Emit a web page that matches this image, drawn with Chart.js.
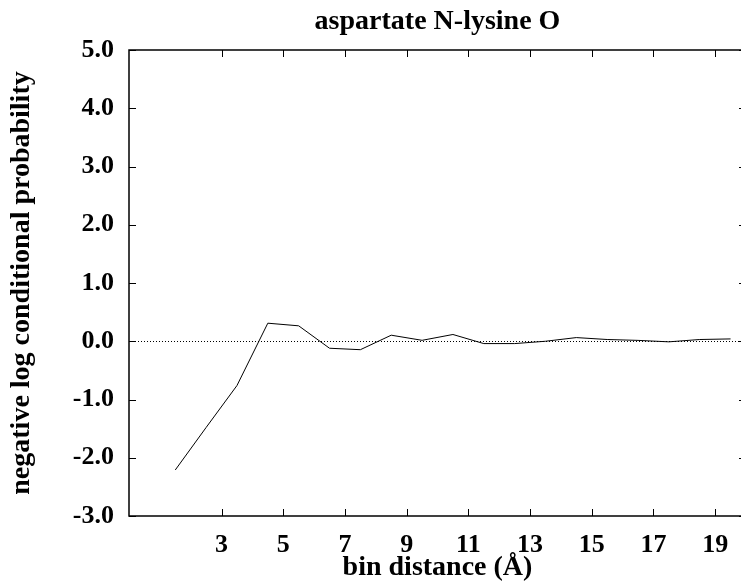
<!DOCTYPE html>
<html>
<head>
<meta charset="utf-8">
<script src="https://cdn.jsdelivr.net/npm/chart.js@4.4.1/dist/chart.umd.min.js"></script>
<style>
  html, body { margin: 0; padding: 0; background: #fff; overflow: hidden; }
  #wrap { width: 741px; height: 585px; overflow: hidden; }
  canvas { display: block; }
</style>
</head>
<body>
<div id="wrap"><canvas id="c" width="750" height="585"></canvas></div>
<script>
// Bin centres (Å) and the negative log conditional probability in each bin
const binCentres = [1.5, 2.5, 3.5, 4.5, 5.5, 6.5, 7.5, 8.5, 9.5, 10.5, 11.5, 12.5, 13.5, 14.5, 15.5, 16.5, 17.5, 18.5, 19.5];
const negLogProb = [-2.21, -1.48, -0.76, 0.31, 0.265, -0.12, -0.145, 0.104, 0.016, 0.116, -0.04, -0.04, 0.0, 0.063, 0.03, 0.015, -0.01, 0.03, 0.04];

// Axis tick positions
const xTickValues = [3, 5, 7, 9, 11, 13, 15, 17, 19];
const yTickValues = [-3, -2, -1, 0, 1, 2, 3, 4, 5];

const FONT = "'Liberation Serif', 'Times New Roman', serif";

// Frame, inward tick marks on all four sides, and the dotted zero axis
const framePlugin = {
  id: 'frame',
  afterDatasetsDraw(chart) {
    const { ctx, chartArea: a, scales: { x, y } } = chart;
    const tick = 7;
    ctx.save();
    // dotted y = 0 line
    ctx.strokeStyle = '#000';
    ctx.lineWidth = 1;
    ctx.setLineDash([1, 2]);
    const y0 = Math.round(y.getPixelForValue(0)) + 0.5;
    ctx.beginPath();
    ctx.moveTo(a.left, y0);
    ctx.lineTo(a.right, y0);
    ctx.stroke();
    ctx.setLineDash([]);

    ctx.lineWidth = 1.5;
    ctx.strokeRect(a.left, a.top, a.right - a.left, a.bottom - a.top);

    ctx.lineWidth = 1;
    ctx.beginPath();
    xTickValues.forEach(v => {
      const px = Math.round(x.getPixelForValue(v)) + 0.5;
      ctx.moveTo(px, a.bottom); ctx.lineTo(px, a.bottom - tick);
      ctx.moveTo(px, a.top); ctx.lineTo(px, a.top + tick);
    });
    yTickValues.forEach(v => {
      const py = Math.round(y.getPixelForValue(v)) + 0.5;
      ctx.moveTo(a.left, py); ctx.lineTo(a.left + tick, py);
      ctx.moveTo(a.right, py); ctx.lineTo(a.right - tick, py);
    });
    ctx.stroke();
    ctx.restore();
  }
};

new Chart(document.getElementById('c'), {
  type: 'line',
  data: {
    datasets: [{
      data: binCentres.map((b, i) => ({ x: b, y: negLogProb[i] })),
      borderColor: '#000',
      borderWidth: 1,
      pointRadius: 0,
      tension: 0,
      fill: false
    }]
  },
  options: {
    responsive: false,
    animation: false,
    layout: { padding: { left: 0, right: 4, top: 0, bottom: 0 } },
    plugins: {
      legend: { display: false },
      tooltip: { enabled: false },
      title: {
        display: true,
        fullSize: false,
        text: 'aspartate N-lysine O',
        color: '#000',
        font: { family: FONT, size: 28, weight: 'bold' },
        padding: { top: 5, bottom: 11.4 }
      }
    },
    scales: {
      x: {
        type: 'linear',
        min: 0,
        max: 20,
        afterBuildTicks(scale) { scale.ticks = xTickValues.map(v => ({ value: v })); },
        afterFit(scale) { scale.height = 69; },
        grid: { display: false, drawTicks: false },
        border: { display: false },
        ticks: {
          color: '#000',
          padding: 14,
          maxRotation: 0,
          font: { family: FONT, size: 26, weight: 'bold' }
        },
        title: {
          display: true,
          text: 'bin distance (Å)',
          color: '#000',
          font: { family: FONT, size: 28, weight: 'bold' },
          padding: { top: 0, bottom: 0 }
        }
      },
      y: {
        type: 'linear',
        min: -3,
        max: 5,
        afterBuildTicks(scale) { scale.ticks = yTickValues.map(v => ({ value: v })); },
        afterFit(scale) { scale.width = 129; },
        grid: { display: false, drawTicks: false },
        border: { display: false },
        ticks: {
          color: '#000',
          padding: 15,
          callback: v => v.toFixed(1),
          font: { family: FONT, size: 26, weight: 'bold' }
        },
        title: {
          display: true,
          text: 'negative log conditional probability',
          color: '#000',
          font: { family: FONT, size: 28, weight: 'bold' },
          padding: { top: 5, bottom: 0 }
        }
      }
    }
  },
  plugins: [framePlugin]
});
</script>
</body>
</html>
